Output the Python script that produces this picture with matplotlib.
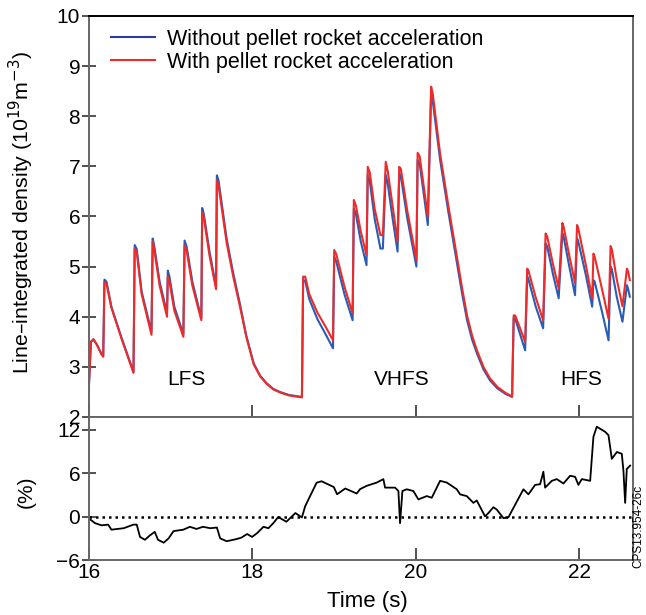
import numpy as np
import matplotlib.pyplot as plt
from matplotlib.lines import Line2D

plt.rcParams['font.family'] = ['Liberation Sans', 'DejaVu Sans']

# top panel: time (s) and line-integrated density (1e19 m^-3)
t_top = [
    16.00, 16.03, 16.06, 16.10, 16.16, 16.18, 16.195, 16.22, 16.28, 16.40, 16.55,
    16.565, 16.59, 16.65, 16.77,
    16.785, 16.80, 16.87, 16.96,
    16.97, 16.99, 17.05, 17.16,
    17.175, 17.20, 17.27, 17.38,
    17.39, 17.41, 17.48, 17.56,
    17.57, 17.59, 17.69, 17.77, 17.85, 17.93, 18.02, 18.10, 18.18, 18.26, 18.34, 18.45, 18.61,
    18.625, 18.65, 18.70, 18.80, 18.90, 18.99,
    19.005, 19.03, 19.13, 19.23,
    19.245, 19.27, 19.33, 19.40,
    19.415, 19.44, 19.50, 19.57, 19.60,
    19.635, 19.66, 19.72, 19.78,
    19.80, 19.82, 19.90, 20.01,
    20.025, 20.05, 20.10, 20.15,
    20.19, 20.21, 20.30, 20.40, 20.50, 20.57, 20.63, 20.69, 20.75, 20.83, 20.91, 21.00, 21.10, 21.18,
    21.20, 21.22, 21.34,
    21.365, 21.38, 21.47, 21.56,
    21.59, 21.61, 21.68, 21.75,
    21.795, 21.81, 21.88, 21.95,
    21.975, 21.99, 22.08, 22.16,
    22.175, 22.19, 22.28, 22.36,
    22.385, 22.40, 22.46, 22.53,
    22.585, 22.60, 22.62,
]
dens_without = [
    2.45, 3.50, 3.55, 3.45, 3.25, 3.22, 4.74, 4.70, 4.20, 3.60, 2.90,
    5.43, 5.35, 4.50, 3.70,
    5.56, 5.45, 4.70, 4.07,
    4.92, 4.80, 4.20, 3.65,
    5.52, 5.40, 4.70, 3.97,
    6.17, 6.05, 5.30, 4.60,
    6.82, 6.72, 5.55, 4.87, 4.27, 3.62, 3.07, 2.82, 2.67, 2.56, 2.50, 2.44, 2.40,
    4.72, 4.72, 4.35, 3.95, 3.65, 3.37,
    5.20, 5.10, 4.45, 3.93,
    6.16, 6.05, 5.50, 5.03,
    6.83, 6.70, 5.95, 5.36, 5.36,
    6.83, 6.65, 5.95, 5.30,
    6.86, 6.80, 5.95, 5.00,
    7.13, 7.05, 6.45, 5.83,
    8.46, 8.30, 7.13, 6.10, 5.13, 4.45, 3.93, 3.55, 3.27, 2.95, 2.73, 2.57, 2.46, 2.40,
    3.97, 3.95, 3.33,
    4.80, 4.75, 4.20, 3.77,
    5.46, 5.40, 4.85, 4.37,
    5.66, 5.60, 5.00, 4.43,
    5.56, 5.50, 4.85, 4.20,
    4.73, 4.70, 4.10, 3.53,
    5.00, 4.95, 4.40, 3.90,
    4.63, 4.55, 4.40,
]
dens_with = [
    2.45, 3.50, 3.55, 3.45, 3.25, 3.20, 4.68, 4.66, 4.18, 3.58, 2.88,
    5.36, 5.28, 4.45, 3.64,
    5.50, 5.38, 4.62, 4.00,
    4.80, 4.70, 4.12, 3.60,
    5.42, 5.32, 4.62, 3.93,
    6.08, 5.98, 5.22, 4.55,
    6.72, 6.62, 5.47, 4.80, 4.22, 3.60, 3.05, 2.81, 2.66, 2.55, 2.49, 2.43, 2.39,
    4.80, 4.80, 4.45, 4.08, 3.80, 3.53,
    5.33, 5.25, 4.60, 4.07,
    6.33, 6.22, 5.70, 5.23,
    6.99, 6.88, 6.15, 5.63, 5.63,
    7.09, 6.90, 6.20, 5.50,
    6.99, 6.95, 6.10, 5.13,
    7.27, 7.20, 6.60, 6.00,
    8.59, 8.45, 7.25, 6.22, 5.25, 4.56, 4.02, 3.63, 3.33, 3.00, 2.77, 2.60, 2.48, 2.41,
    4.03, 4.02, 3.50,
    4.96, 4.92, 4.38, 3.93,
    5.66, 5.60, 5.05, 4.57,
    5.87, 5.80, 5.22, 4.67,
    5.83, 5.76, 5.05, 4.37,
    5.26, 5.20, 4.55, 3.96,
    5.41, 5.35, 4.75, 4.21,
    4.96, 4.90, 4.73,
]

# bottom panel: relative difference (%)
t_diff = [
    16.00, 16.08, 16.16, 16.24, 16.28, 16.43, 16.55, 16.59, 16.63, 16.69, 16.75, 16.81,
    16.85, 16.92, 16.98, 17.04, 17.16, 17.24, 17.32, 17.40, 17.49, 17.57, 17.61, 17.69,
    17.81, 17.87, 17.94, 18.00, 18.06, 18.14, 18.20, 18.26, 18.32, 18.42, 18.53, 18.61,
    18.65, 18.71, 18.79, 18.85, 19.00, 19.04, 19.14, 19.28, 19.32, 19.40, 19.525, 19.606,
    19.627, 19.749, 19.790, 19.810, 19.839, 19.892, 19.973, 20.034, 20.137, 20.198, 20.300,
    20.382, 20.504, 20.544, 20.626, 20.707, 20.748, 20.850, 20.891, 20.952, 20.993, 21.074,
    21.135, 21.197, 21.319, 21.380, 21.462, 21.523, 21.563, 21.584, 21.666, 21.727, 21.808,
    21.890, 21.951, 21.991, 22.033, 22.135, 22.175, 22.216, 22.318, 22.359, 22.400, 22.461,
    22.522, 22.542, 22.563, 22.583, 22.624,
]
diff_pct = [
    -0.2, -0.9, -1.2, -1.1, -1.8, -1.6, -1.1, -1.1, -2.8, -3.2, -2.6, -2.1,
    -3.2, -3.6, -3.0, -2.0, -1.8, -1.4, -1.7, -1.4, -1.6, -1.5, -3.0, -3.4,
    -3.1, -2.9, -2.4, -2.8, -2.3, -1.4, -1.6, -0.9, -0.05, -0.7, 0.5, -0.1,
    1.45, 2.85, 4.7, 4.9, 4.1, 3.1, 3.9, 3.2, 3.8, 4.26, 4.72, 5.2,
    4.02, 4.02, 3.55, -0.9, 3.55, 3.79, 3.55, 2.39, 2.85, 2.62, 4.96,
    4.72, 3.79, 3.09, 2.85, 1.91, 2.24, 0.04, 0.51, 1.31, 0.98, -0.2,
    -0.1, 1.22, 3.79, 3.09, 4.4, 4.49, 6.22, 4.02, 4.96, 5.2, 4.59,
    5.66, 5.52, 4.4, 5.2, 4.96, 11.05, 12.45, 11.75, 11.28, 8.0, 8.95,
    8.7, 6.36, 1.91, 6.6, 7.07,
]

regions = ['LFS', 'VHFS', 'HFS']
region_t = [17.2, 19.83, 22.03]
labels = ['Without pellet rocket acceleration', 'With pellet rocket acceleration']

blue = '#2a5bb5'
red = '#ee2b2b'
spine_col = '#666666'

fig = plt.figure(figsize=(6.46, 6.15), dpi=100)
ax1 = fig.add_axes([0.137, 0.322, 0.843, 0.652])
ax2 = fig.add_axes([0.137, 0.0894, 0.843, 0.2326], sharex=ax1)

ax1.plot(t_top, dens_without, color=blue, lw=1.5)
ax1.plot(t_top, dens_with, color=red, lw=1.5)
ax1.set_xlim(16, 22.66)
ax1.set_ylim(2, 10)
ax1.set_yticks(range(2, 11))
ax1.set_ylabel('Line\u2013integrated density (10$^{19}$m$^{-3}$)', fontsize=15.3)
ax1.yaxis.set_label_coords(-0.097, 0.51)
ax1.tick_params(axis='x', labelbottom=False)

handles = [Line2D([], [], color='#2b3d9c', lw=1.5), Line2D([], [], color=red, lw=1.5)]
ax1.legend(handles, labels, loc='upper left', bbox_to_anchor=(0.041, 0.968),
           frameon=False, fontsize=15.5, handlelength=2.05, handletextpad=0.55,
           labelspacing=0.1, borderaxespad=0, borderpad=0)

for lab, xx in zip(regions, region_t):
    ax1.text(xx, 2.75, lab, fontsize=15, ha='center', va='center')

ax2.plot(t_diff, diff_pct, color='black', lw=1.3)
ax2.axhline(0, color='black', lw=1.8, ls=(0, (1, 1.6)))
ax2.set_ylim(-6, 13.8)
ax2.set_yticks([-6, 0, 6, 12])
ax2.set_yticklabels(['\u22126', '0', '6', '12'])
ax2.set_xticks([16, 18, 20, 22])
ax2.set_xlabel('Time (s)', fontsize=16)
ax2.xaxis.set_label_coords(0.513, -0.22)
ax2.set_ylabel('(%)', fontsize=15)
ax2.yaxis.set_label_coords(-0.097, 0.476)

for ax in (ax1, ax2):
    for s in ax.spines.values():
        s.set_color(spine_col)
        s.set_linewidth(1.4)
    ax.tick_params(axis='y', direction='inout', length=10, width=1.2, color='#333333',
                   labelsize=15, pad=1)
    ax.tick_params(axis='x', direction='in', length=9, width=1.2, color='#333333',
                   labelsize=15, pad=2)
ax1.spines['top'].set_color('black')

fig.text(0.998, 0.076, 'CPS13.954-26c', rotation=90, fontsize=8.5, ha='right', va='bottom')

fig.savefig('out.png', dpi=100)
